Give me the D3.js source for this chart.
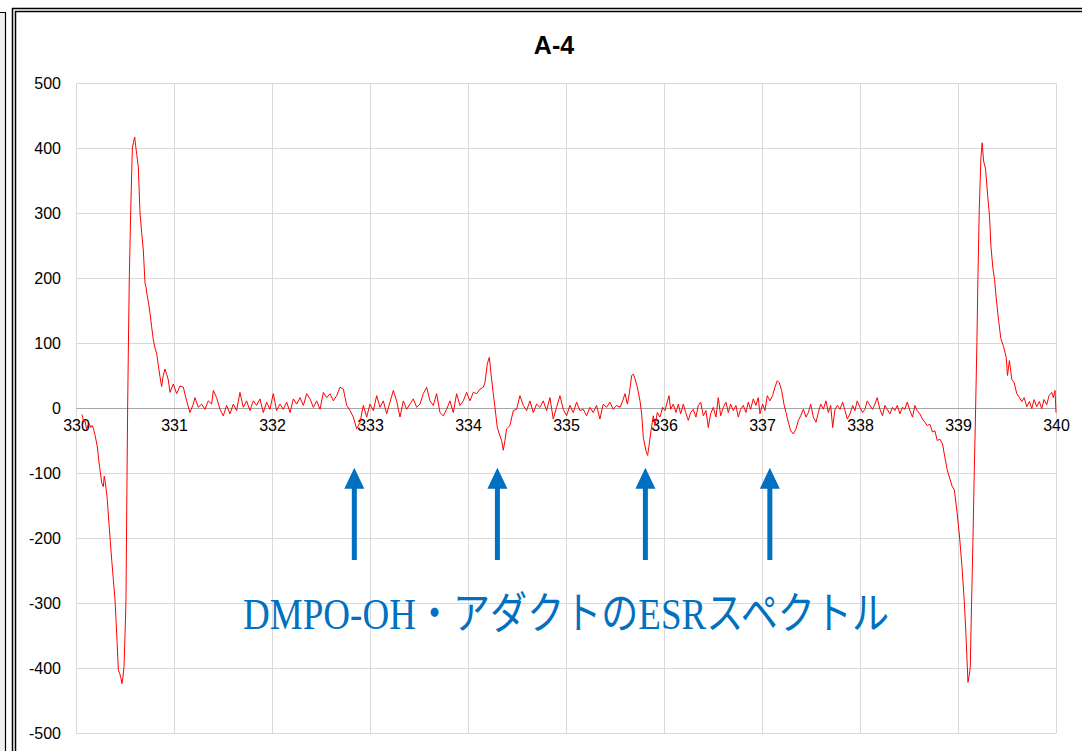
<!DOCTYPE html>
<html><head><meta charset="utf-8">
<script src="https://cdn.jsdelivr.net/npm/d3@7"></script>
<style>body{margin:0;background:#fff;overflow:hidden}svg{display:block}</style>
</head><body>
<script>
const chartTitle = "A-4";
const caption = "DMPO-OH・アダクトのESRスペクトル";
const xTicks = [330, 331, 332, 333, 334, 335, 336, 337, 338, 339, 340];
const yTicks = [-500, -400, -300, -200, -100, 0, 100, 200, 300, 400, 500];
const arrowFields = [332.84, 334.30, 335.81, 337.08];

// [magnetic field (mT), ESR intensity]
const spectrum = [
[330.060,-10],[330.068,-14],[330.080,-22],[330.090,-18],[330.109,-34],[330.122,-26],[330.136,-24],[330.150,-30],
[330.165,-27],[330.177,-31],[330.195,-42],[330.218,-60],[330.232,-80],[330.245,-95],[330.262,-115],[330.279,-121],
[330.288,-105],[330.296,-111],[330.310,-128],[330.320,-142],[330.335,-175],[330.350,-205],[330.365,-235],[330.380,-262],
[330.398,-295],[330.410,-330],[330.420,-362],[330.432,-403],[330.445,-408],[330.458,-415],[330.469,-424],[330.478,-415],
[330.490,-398],[330.500,-350],[330.510,-295],[330.518,-150],[330.527,0],[330.535,100],[330.544,200],[330.558,300],
[330.575,400],[330.588,410],[330.599,417],[330.608,404],[330.620,390],[330.636,371],[330.653,300],[330.670,270],
[330.687,243],[330.704,192],[330.716,185],[330.728,171],[330.742,160],[330.755,146],[330.772,125],[330.789,105],
[330.806,92],[330.823,84],[330.840,66],[330.857,48],[330.874,33],[330.890,50],[330.908,60],[330.925,52],[330.942,43],
[330.959,24],[330.993,37],[331.027,22],[331.061,34],[331.095,32],[331.129,11],[331.163,-7],[331.197,6],[331.214,16],
[331.248,1],[331.282,6],[331.316,-2],[331.350,11],[331.384,6],[331.401,27],[331.435,16],[331.469,-2],[331.503,-12],
[331.537,4],[331.571,-9],[331.605,6],[331.639,-4],[331.673,24],[331.707,1],[331.741,11],[331.775,-4],[331.809,11],
[331.843,4],[331.877,14],[331.911,-7],[331.945,9],[331.979,-2],[332.013,22],[332.047,-4],[332.081,6],[332.115,-2],
[332.150,9],[332.184,-7],[332.218,14],[332.252,6],[332.286,16],[332.320,4],[332.354,22],[332.388,14],[332.422,1],
[332.456,11],[332.490,-2],[332.524,24],[332.558,16],[332.592,22],[332.626,11],[332.660,19],[332.694,32],[332.728,29],
[332.762,4],[332.796,-4],[332.830,-14],[332.864,-32],[332.898,-22],[332.932,4],[332.966,-14],[333.000,6],[333.034,-4],
[333.068,19],[333.102,1],[333.136,11],[333.170,-9],[333.204,9],[333.238,27],[333.272,11],[333.306,-14],[333.340,11],
[333.374,-2],[333.408,6],[333.442,14],[333.476,1],[333.510,6],[333.544,22],[333.578,32],[333.612,11],[333.646,4],
[333.680,22],[333.714,-7],[333.748,-12],[333.782,-2],[333.816,11],[333.850,-7],[333.884,22],[333.918,4],[333.952,11],
[333.986,24],[334.020,11],[334.054,24],[334.088,22],[334.122,29],[334.156,32],[334.173,39],[334.197,68],[334.218,78],
[334.235,52],[334.258,22],[334.275,1],[334.299,-30],[334.326,-43],[334.343,-50],[334.360,-65],[334.377,-50],[334.394,-32],
[334.428,-27],[334.462,-4],[334.496,-2],[334.530,19],[334.564,4],[334.598,-4],[334.632,11],[334.666,-7],[334.700,6],
[334.734,1],[334.768,11],[334.802,-4],[334.836,16],[334.870,-17],[334.904,1],[334.938,19],[334.972,-2],[335.006,-12],
[335.040,4],[335.074,-7],[335.108,9],[335.142,-4],[335.176,-2],[335.210,-12],[335.244,1],[335.278,-7],[335.312,4],
[335.346,-17],[335.380,6],[335.414,1],[335.448,9],[335.482,-2],[335.516,4],
[335.551,1],[335.578,11],[335.602,22],[335.626,6],[335.646,22],[335.670,50],[335.687,52],[335.704,45],[335.728,32],
[335.755,11],[335.772,-9],[335.789,-45],[335.816,-66],[335.833,-73],[335.850,-55],[335.867,-35],[335.891,-12],[335.908,-27],
[335.932,-7],[335.959,-14],[335.986,1],[336.010,-4],[336.027,6],[336.051,19],[336.068,-2],[336.095,6],[336.122,-7],
[336.146,6],[336.170,-9],[336.197,6],[336.221,-7],[336.248,-19],[336.272,-7],[336.299,-2],[336.326,-14],[336.350,4],
[336.374,9],[336.401,-12],[336.428,-4],[336.452,-30],[336.476,-9],[336.503,1],[336.530,-14],[336.554,16],[336.578,-12],
[336.605,1],[336.632,9],[336.656,-7],[336.680,6],[336.707,-4],[336.734,4],[336.758,-14],[336.782,-2],[336.809,4],
[336.836,-7],[336.860,9],[336.884,-2],[336.911,14],[336.938,4],[336.962,16],[336.979,-9],[337.006,6],[337.030,-4],
[337.054,19],[337.081,11],[337.108,19],[337.132,32],[337.156,42],[337.176,39],[337.200,27],[337.224,6],[337.245,-7],
[337.269,-22],[337.293,-35],[337.320,-40],[337.347,-32],[337.371,-19],[337.395,-12],[337.422,-2],[337.449,-14],[337.473,-7],
[337.497,6],[337.524,-14],[337.551,-22],[337.575,-7],[337.599,6],[337.626,-2],[337.653,11],[337.677,-7],[337.701,4],
[337.721,-30],[337.745,-2],[337.769,4],[337.796,-2],[337.823,9],[337.847,-4],[337.871,-17],[337.898,-9],[337.925,4],
[337.948,-4],[337.972,11],[337.999,1],[338.026,-7],[338.050,-2],[338.074,11],[338.101,4],[338.128,-2],[338.152,6],
[338.176,16],[338.203,-2],[338.230,-12],[338.254,4],[338.278,-2],[338.305,-9],[338.332,1],[338.356,-4],[338.380,4],
[338.407,-9],[338.434,1],[338.458,-2],[338.482,9],[338.509,-4],[338.536,-14],[338.560,4],[338.584,-4],[338.611,-9],
[338.638,-17],[338.662,-22],[338.686,-27],[338.713,-25],[338.740,-37],[338.764,-35],[338.788,-50],[338.815,-48],
[338.842,-55],[338.866,-76],[338.890,-95],[338.905,-103],[338.939,-120],[338.963,-126],[338.990,-160],[339.017,-200],
[339.041,-245],[339.064,-297],[339.081,-348],[339.092,-388],[339.102,-422],[339.115,-411],[339.125,-399],[339.139,-297],
[339.153,-200],[339.166,-98],[339.180,0],[339.193,101],[339.203,198],[339.217,306],[339.234,385],[339.247,408],
[339.261,380],[339.281,368],[339.302,328],[339.322,294],[339.336,249],[339.356,215],[339.373,198],[339.390,169],
[339.414,135],[339.437,107],[339.464,95],[339.492,78],[339.505,50],[339.525,73],[339.549,44],[339.573,39],[339.600,22],
[339.627,16],[339.651,10],[339.675,16],[339.702,2],[339.729,10],[339.753,-1],[339.776,13],[339.803,2],[339.830,10],
[339.854,-1],[339.878,13],[339.905,5],[339.929,19],[339.956,24],[339.973,16],[339.990,27],[340.000,-7]
];

const W = 1082, H = 751;
const svg = d3.select("body").append("svg").attr("width", W).attr("height", H);

// outer frames
const frame = svg.append("g").attr("fill", "none").attr("stroke", "#000");
svg.insert("rect", ":first-child").attr("x", 0).attr("y", 12).attr("width", 5).attr("height", H - 12).attr("fill", "#f0f0f0");
frame.append("path").attr("d", `M0,12.5H5.5V${H}`).attr("stroke-width", 1.2);
frame.append("path").attr("d", `M12.5,${H}V8.5H${W}`).attr("stroke-width", 1.5);
frame.append("path").attr("d", `M15.5,${H}V11.5H${W}`).attr("stroke-width", 1.5);

const x = d3.scaleLinear().domain([330, 340]).range([76, 1056]);
const y = d3.scaleLinear().domain([-500, 500]).range([733, 83]);

// grid
const grid = svg.append("g").attr("transform", "translate(0.5,0.5)");
grid.selectAll("line.v").data(xTicks).join("line").attr("class", "v")
  .attr("x1", d => x(d)).attr("x2", d => x(d)).attr("y1", y(500)).attr("y2", y(-500))
  .attr("stroke", "#d9d9d9").attr("stroke-width", 1);
grid.selectAll("line.h").data(yTicks).join("line").attr("class", "h")
  .attr("x1", x(330)).attr("x2", x(340)).attr("y1", d => y(d)).attr("y2", d => y(d))
  .attr("stroke", d => d === 0 ? "#a6a6a6" : "#d9d9d9").attr("stroke-width", 1);

// axes labels (plain hyphen minus like the original)
const font = "'Liberation Sans', Arial, sans-serif";
const plain = d => String(d);
const yAxis = svg.append("g").attr("transform", `translate(${x(330)},0)`)
  .call(d3.axisLeft(y).tickValues(yTicks).tickSize(0).tickPadding(15).tickFormat(plain));
yAxis.select(".domain").remove();
yAxis.selectAll("text").attr("font-family", font).attr("font-size", 16).attr("fill", "#000");

const xAxis = svg.append("g").attr("transform", `translate(0,${y(0)})`)
  .call(d3.axisBottom(x).tickValues(xTicks).tickSize(0).tickPadding(12).tickFormat(plain));
xAxis.select(".domain").remove();
xAxis.selectAll("text").attr("font-family", font).attr("font-size", 16).attr("fill", "#000");

// title
svg.append("text").attr("x", 554).attr("y", 54).attr("text-anchor", "middle")
  .attr("font-family", font).attr("font-weight", "bold").attr("font-size", 25).text(chartTitle);

// spectrum line
svg.append("path").datum(spectrum)
  .attr("d", d3.line().x(d => x(d[0])).y(d => y(d[1])))
  .attr("fill", "none").attr("stroke", "#ff0000").attr("stroke-width", 1).attr("stroke-linejoin", "round");

// arrows
const blue = "#0070C0";
const tipY = y(-92), baseY = y(-234);
const arrows = svg.append("g").attr("fill", blue);
arrows.selectAll("path").data(arrowFields).join("path")
  .attr("d", d => {
    const cx = x(d);
    return `M${cx},${tipY} L${cx + 10},${tipY + 21} L${cx + 2.5},${tipY + 21} L${cx + 2.5},${baseY} L${cx - 2.5},${baseY} L${cx - 2.5},${tipY + 21} L${cx - 10},${tipY + 21} Z`;
  });

// caption
svg.append("text").attr("x", 243).attr("y", 629)
  .attr("font-family", "'Liberation Serif', 'Noto Sans CJK JP', serif")
  .attr("font-size", 44).attr("fill", blue)
  .attr("textLength", 646).attr("lengthAdjust", "spacingAndGlyphs")
  .text(caption);
</script>
</body></html>
